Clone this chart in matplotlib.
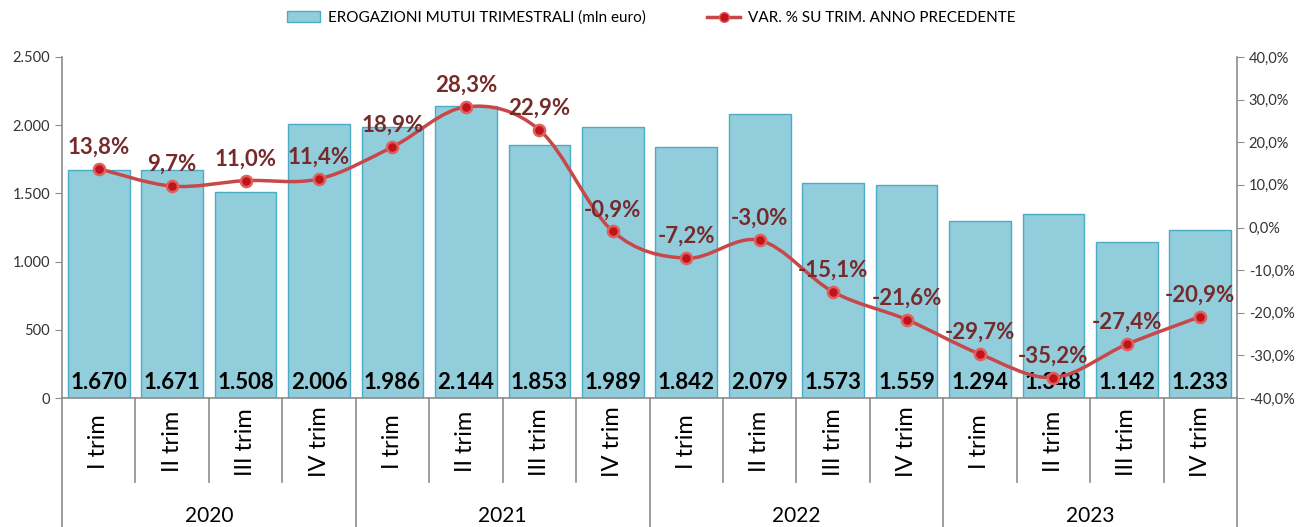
import matplotlib.pyplot as plt
import numpy as np
from matplotlib.path import Path
from matplotlib.patches import PathPatch
from matplotlib.lines import Line2D
import matplotlib.transforms as mtransforms

plt.rcParams['font.family'] = ['Lato', 'DejaVu Sans']

# Data
years = ["2020", "2021", "2022", "2023"]
quarters = ["I trim", "II trim", "III trim", "IV trim"]
erogazioni = [1670, 1671, 1508, 2006, 1986, 2144, 1853, 1989,
              1842, 2079, 1573, 1559, 1294, 1348, 1142, 1233]
var_pct = [13.8, 9.7, 11.0, 11.4, 18.9, 28.3, 22.9, -0.9,
           -7.2, -3.0, -15.1, -21.6, -29.7, -35.2, -27.4, -20.9]
left_ticks = [0, 500, 1000, 1500, 2000, 2500]
right_ticks = [-40, -30, -20, -10, 0, 10, 20, 30, 40]

bar_face = "#92CDDC"
bar_edge = "#4BACC6"
line_col = "#C8484A"
label_red = "#772A2A"


def fmt_it(v, dec=0):
    s = f"{v:,.{dec}f}"
    return s.replace(",", "X").replace(".", ",").replace("X", ".")


fig = plt.figure(figsize=(13.02, 5.27), dpi=100)
ax = fig.add_axes([62 / 1302, 129 / 527, 1175 / 1302, 341 / 527])
ax2 = ax.twinx()

x = np.arange(len(erogazioni))
ax.bar(x, erogazioni, width=0.84, color=bar_face, edgecolor=bar_edge, linewidth=1.0, zorder=2)
ax.set_xlim(-0.5, len(erogazioni) - 0.5)
ax.set_ylim(0, 2500)
ax.set_yticks(left_ticks)
ax.set_yticklabels([fmt_it(t) for t in left_ticks], fontsize=10.5, color="#333333")
ax.set_xticks([])

for xi, v in zip(x, erogazioni):
    ax.text(xi, 35, fmt_it(v), ha="center", va="bottom", fontsize=16,
            fontweight="bold", color="black", zorder=5)

# smoothed line (Catmull-Rom style like Excel)
pts = np.column_stack([x, var_pct]).astype(float)
verts = [tuple(pts[0])]
codes = [Path.MOVETO]
n = len(pts)
for i in range(n - 1):
    p0 = pts[i - 1] if i > 0 else pts[i]
    p1 = pts[i]
    p2 = pts[i + 1]
    p3 = pts[i + 2] if i + 2 < n else pts[i + 1]
    c1 = p1 + (p2 - p0) / 6
    c2 = p2 - (p3 - p1) / 6
    verts += [tuple(c1), tuple(c2), tuple(p2)]
    codes += [Path.CURVE4] * 3
ax2.add_patch(PathPatch(Path(verts, codes), facecolor="none", edgecolor=line_col,
                        linewidth=2.5, zorder=3))
ax2.plot(x, var_pct, linestyle="none", marker="o", markersize=8,
         markerfacecolor="#C0141A", markeredgecolor="#E0605E", markeredgewidth=1.8, zorder=4)

for xi, v in zip(x, var_pct):
    ax2.annotate(fmt_it(v, 1) + "%", (xi, v), xytext=(0, 8), textcoords="offset points",
                 ha="center", va="bottom", fontsize=16, fontweight="bold", color=label_red, zorder=6)

ax2.set_ylim(-40, 40)
ax2.set_yticks(right_ticks)
ax2.set_yticklabels([fmt_it(t, 1) + "%" for t in right_ticks], fontsize=10.5, color="#333333")

for a in (ax, ax2):
    a.spines["top"].set_visible(False)
    for s in ("left", "right", "bottom"):
        a.spines[s].set_color("#8C8C8C")
        a.spines[s].set_linewidth(1.2)
    a.tick_params(axis="y", length=5, color="#8C8C8C")
ax.spines["right"].set_visible(False)
ax2.spines["left"].set_visible(False)
ax2.spines["bottom"].set_visible(False)

# category axis with quarters and years
trans = mtransforms.blended_transform_factory(ax.transData, ax.transAxes)
for i in range(len(erogazioni)):
    ax.text(i, -0.128, quarters[i % 4], transform=trans, rotation=90, ha="center",
            va="center", fontsize=17, color="black")
for i in range(1, len(erogazioni)):
    bottom = -0.378 if i % 4 == 0 else -0.246
    ax.plot([i - 0.5, i - 0.5], [0, bottom], transform=trans, color="#8C8C8C",
            linewidth=1.2, clip_on=False)
for xe in (-0.5, len(erogazioni) - 0.5):
    ax.plot([xe, xe], [0, -0.378], transform=trans, color="#8C8C8C",
            linewidth=1.2, clip_on=False)
for j, yr in enumerate(years):
    ax.text(j * 4 + 1.5, -0.345, yr, transform=trans, ha="center", va="center",
            fontsize=15, color="black")

# legend
handles = [
    plt.Rectangle((0, 0), 1, 1, facecolor=bar_face, edgecolor=bar_edge),
    Line2D([], [], color=line_col, linewidth=2.5, marker="o", markersize=7,
           markerfacecolor="#C0141A", markeredgecolor="#E0605E"),
]
fig.legend(handles, ["EROGAZIONI MUTUI TRIMESTRALI (mln euro)",
                     "VAR. % SU TRIM. ANNO PRECEDENTE"],
           loc="center", bbox_to_anchor=(0.5, 1 - 18 / 527), ncol=2, frameon=False,
           fontsize=11, columnspacing=4, handlelength=2.2, handletextpad=0.5)

fig.savefig("out.png", dpi=100)
